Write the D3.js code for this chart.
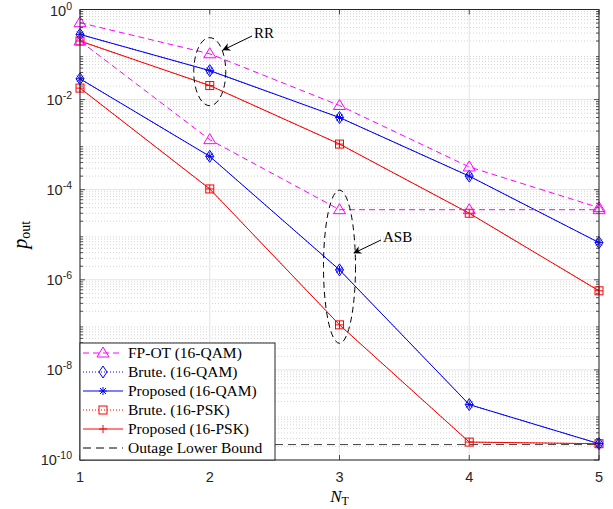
<!DOCTYPE html>
<html>
<head>
<meta charset="utf-8">
<script src="https://cdn.jsdelivr.net/npm/d3@7"></script>
<style>
  body { margin: 0; background: #fff; }
  svg text { font-family: "Liberation Sans", Arial, sans-serif; }
  .serif { font-family: "Liberation Serif", "DejaVu Serif", serif; }
</style>
</head>
<body>
<div id="chart"></div>
<script>
// number of transmit antennas
var nT = [1, 2, 3, 4, 5];

// RR curves
var fpotRR    = [0.51, 0.104, 7.4e-3, 3.2e-4, 4.0e-5];
var bruteQamRR = [0.28, 0.044, 4.0e-3, 2.0e-4, 6.7e-6];
var propQamRR  = [0.28, 0.044, 4.0e-3, 2.0e-4, 6.7e-6];
var brutePskRR = [0.20, 0.0205, 1.03e-3, 3.0e-5, 5.7e-7];
var propPskRR  = [0.20, 0.0205, 1.03e-3, 3.0e-5, 5.7e-7];

// ASB curves
var fpotASB    = [0.20, 1.29e-3, 3.6e-5, 3.6e-5, 3.6e-5];
var bruteQamASB = [0.029, 5.5e-4, 1.66e-6, 1.7e-9, 2.3e-10];
var propQamASB  = [0.029, 5.5e-4, 1.66e-6, 1.7e-9, 2.3e-10];
var brutePskASB = [0.018, 1.04e-4, 1.0e-7, 2.5e-10, 2.3e-10];
var propPskASB  = [0.018, 1.04e-4, 1.0e-7, 2.5e-10, 2.3e-10];

var lowerBound = [2.2e-10, 2.2e-10, 2.2e-10, 2.2e-10, 2.2e-10];

var yTickExp = [0, -2, -4, -6, -8, -10];

var series = [
  {name: 'FP-OT (16-QAM)', color: '#ff00ff', dash: '6,4', marker: 'triangle', data: [fpotRR, fpotASB]},
  {name: 'Brute. (16-QAM)', color: '#0000ff', dash: '1,2', marker: 'diamond', data: [bruteQamRR, bruteQamASB]},
  {name: 'Proposed (16-QAM)', color: '#0000ff', dash: null, marker: 'asterisk', data: [propQamRR, propQamASB]},
  {name: 'Brute. (16-PSK)', color: '#ff0000', dash: '1,2', marker: 'square', data: [brutePskRR, brutePskASB]},
  {name: 'Proposed (16-PSK)', color: '#ff0000', dash: null, marker: 'plus', data: [propPskRR, propPskASB]},
  {name: 'Outage Lower Bound', color: '#000000', dash: '8,5', marker: null, data: [lowerBound]}
];

var W = 613, H = 509;
var pL = 80, pR = 599, pT = 9.5, pB = 460;

var svg = d3.select('#chart').append('svg')
  .attr('width', W).attr('height', H);

var x = d3.scaleLinear().domain([1, 5]).range([pL, pR]);
var y = d3.scaleLog().domain([1e-10, 1]).range([pB, pT]);

// grid
var minor = [];
for (var e = -10; e < 0; e++) {
  for (var k = 2; k <= 9; k++) minor.push(k * Math.pow(10, e));
}
svg.append('g').selectAll('line').data(minor).enter().append('line')
  .attr('x1', pL).attr('x2', pR)
  .attr('y1', function(d){ return y(d); }).attr('y2', function(d){ return y(d); })
  .style('stroke', '#d4d4d4').style('stroke-width', 1).style('stroke-dasharray', '1,2');
svg.append('g').selectAll('line').data(yTickExp).enter().append('line')
  .attr('x1', pL).attr('x2', pR)
  .attr('y1', function(d){ return y(Math.pow(10, d)); }).attr('y2', function(d){ return y(Math.pow(10, d)); })
  .style('stroke', '#e3e3e3').style('stroke-width', 1);
svg.append('g').selectAll('line').data(nT).enter().append('line')
  .attr('x1', function(d){ return x(d); }).attr('x2', function(d){ return x(d); })
  .attr('y1', pT).attr('y2', pB)
  .style('stroke', '#e3e3e3').style('stroke-width', 1);

// ticks (inward, both sides)
var axisColor = '#262626';
var tg = svg.append('g').style('stroke', axisColor).style('stroke-width', 0.8);
nT.forEach(function(d){
  tg.append('line').attr('x1', x(d)).attr('x2', x(d)).attr('y1', pB).attr('y2', pB - 5);
  tg.append('line').attr('x1', x(d)).attr('x2', x(d)).attr('y1', pT).attr('y2', pT + 5);
});
yTickExp.forEach(function(d){
  var yy = y(Math.pow(10, d));
  tg.append('line').attr('x1', pL).attr('x2', pL + 5).attr('y1', yy).attr('y2', yy);
  tg.append('line').attr('x1', pR).attr('x2', pR - 5).attr('y1', yy).attr('y2', yy);
});
minor.forEach(function(d){
  var yy = y(d);
  tg.append('line').attr('x1', pL).attr('x2', pL + 3).attr('y1', yy).attr('y2', yy);
  tg.append('line').attr('x1', pR).attr('x2', pR - 3).attr('y1', yy).attr('y2', yy);
});

// tick labels
svg.append('g').selectAll('text').data(nT).enter().append('text')
  .attr('x', function(d){ return x(d); }).attr('y', 482)
  .attr('text-anchor', 'middle').attr('font-size', 14.5).attr('fill', axisColor)
  .text(function(d){ return d; });
var yl = svg.append('g').selectAll('text').data(yTickExp).enter().append('text')
  .attr('x', 72).attr('y', function(d){ return y(Math.pow(10, d)) + (d === 0 ? 6 : 5); })
  .attr('text-anchor', 'end').attr('font-size', 14.5).attr('fill', axisColor);
yl.append('tspan').text('10');
yl.append('tspan').attr('dy', -6).attr('font-size', 10.5).text(function(d){ return d; });

// axis labels
var xl = svg.append('text').attr('class', 'serif')
  .attr('x', x(3)).attr('y', 502).attr('text-anchor', 'middle').attr('font-size', 17);
xl.append('tspan').attr('font-style', 'italic').text('N');
xl.append('tspan').attr('font-size', 12).attr('dy', 3).text('T');

var ylab = svg.append('text').attr('class', 'serif')
  .attr('transform', 'translate(27,' + ((pT + pB) / 2) + ') rotate(-90)')
  .attr('text-anchor', 'middle').attr('font-size', 20);
ylab.append('tspan').attr('font-style', 'italic').text('p');
ylab.append('tspan').attr('font-size', 14).attr('dy', 3).text('out');

// markers
function drawMarker(g, type, cx, cy, color) {
  if (type === 'triangle') {
    g.append('path').attr('d', 'M' + cx + ',' + (cy - 6) + 'L' + (cx + 6) + ',' + (cy + 4) + 'L' + (cx - 6) + ',' + (cy + 4) + 'Z')
      .style('fill', 'none').style('stroke', color).style('stroke-width', 1);
  } else if (type === 'diamond') {
    g.append('path').attr('d', 'M' + cx + ',' + (cy - 6) + 'L' + (cx + 4) + ',' + cy + 'L' + cx + ',' + (cy + 6) + 'L' + (cx - 4) + ',' + cy + 'Z')
      .style('fill', 'none').style('stroke', color).style('stroke-width', 1);
  } else if (type === 'square') {
    g.append('rect').attr('x', cx - 4).attr('y', cy - 4).attr('width', 8).attr('height', 8)
      .style('fill', 'none').style('stroke', color).style('stroke-width', 1);
  } else if (type === 'plus') {
    g.append('path').attr('d', 'M' + (cx - 4) + ',' + cy + 'H' + (cx + 4) + 'M' + cx + ',' + (cy - 4) + 'V' + (cy + 4))
      .style('stroke', color).style('stroke-width', 1);
  } else if (type === 'asterisk') {
    g.append('path').attr('d', 'M' + (cx - 4) + ',' + cy + 'H' + (cx + 4) + 'M' + cx + ',' + (cy - 4) + 'V' + (cy + 4) +
        'M' + (cx - 3) + ',' + (cy - 3) + 'L' + (cx + 3) + ',' + (cy + 3) + 'M' + (cx - 3) + ',' + (cy + 3) + 'L' + (cx + 3) + ',' + (cy - 3))
      .style('stroke', color).style('stroke-width', 1);
  }
}

var line = d3.line()
  .x(function(d, i){ return x(nT[i]); })
  .y(function(d){ return y(d); });

var plot = svg.append('g');
// lower bound first, then the rest so FP-OT stays on top
[5, 3, 4, 1, 2, 0].forEach(function(si){
  var s = series[si];
  s.data.forEach(function(arr){
    plot.append('path').datum(arr).attr('d', line)
      .style('fill', 'none').style('stroke', s.color).style('stroke-width', 1)
      .style('stroke-dasharray', s.dash)
      .style('opacity', s.color === '#000000' ? 0.75 : 1);
    if (s.marker) {
      arr.forEach(function(v, i){ drawMarker(plot, s.marker, x(nT[i]), y(v), s.color); });
    }
  });
});

// frame
svg.append('rect').attr('x', pL).attr('y', pT).attr('width', pR - pL).attr('height', pB - pT)
  .style('fill', 'none').style('stroke', axisColor).style('stroke-width', 1);

// annotations
var ann = svg.append('g').style('stroke', '#000').style('fill', 'none');
var rrC = Math.pow(10, -1.38);
ann.append('ellipse').attr('cx', x(2)).attr('cy', y(rrC))
  .attr('rx', 16).attr('ry', (y(Math.pow(10, -1.38 - 0.755)) - y(rrC)))
  .style('stroke-dasharray', '6,4').style('stroke-width', 1);
var asbC = Math.pow(10, -5.71);
ann.append('ellipse').attr('cx', x(3)).attr('cy', y(asbC))
  .attr('rx', 16).attr('ry', (y(Math.pow(10, -5.71 - 1.70)) - y(asbC)))
  .style('stroke-dasharray', '6,4').style('stroke-width', 1);

svg.append('defs').append('marker').attr('id', 'arr')
  .attr('viewBox', '0 0 10 10').attr('refX', 9).attr('refY', 5)
  .attr('markerWidth', 10).attr('markerHeight', 8).attr('orient', 'auto')
  .append('path').attr('d', 'M0,0L10,5L0,10L3,5Z').style('fill', '#000');

ann.append('line').attr('x1', 252).attr('y1', 36).attr('x2', 223).attr('y2', 50)
  .style('stroke-width', 1).attr('marker-end', 'url(#arr)');
ann.append('line').attr('x1', 381).attr('y1', 240).attr('x2', 354).attr('y2', 253)
  .style('stroke-width', 1).attr('marker-end', 'url(#arr)');
svg.append('text').attr('class', 'serif').attr('x', 254).attr('y', 38).attr('font-size', 15).text('RR');
svg.append('text').attr('class', 'serif').attr('x', 383).attr('y', 242).attr('font-size', 15).text('ASB');

// legend
var lg = svg.append('g');
var lx = 80, ly = 343, lw = 195, rowH = 19;
lg.append('rect').attr('x', lx).attr('y', ly).attr('width', lw).attr('height', pB - ly)
  .style('fill', '#fff').style('stroke', axisColor).style('stroke-width', 1);
series.forEach(function(s, i){
  var cy = ly + 10 + i * rowH;
  lg.append('line').attr('x1', lx + 3).attr('x2', lx + 43).attr('y1', cy).attr('y2', cy)
    .style('stroke', s.color).style('stroke-width', 1)
    .style('stroke-dasharray', s.dash);
  if (s.marker) drawMarker(lg, s.marker, lx + 23, cy, s.color);
  lg.append('text').attr('class', 'serif').attr('x', lx + 48).attr('y', cy + 5)
    .attr('font-size', 15.5).attr('fill', '#000').text(s.name);
});
</script>
</body>
</html>
